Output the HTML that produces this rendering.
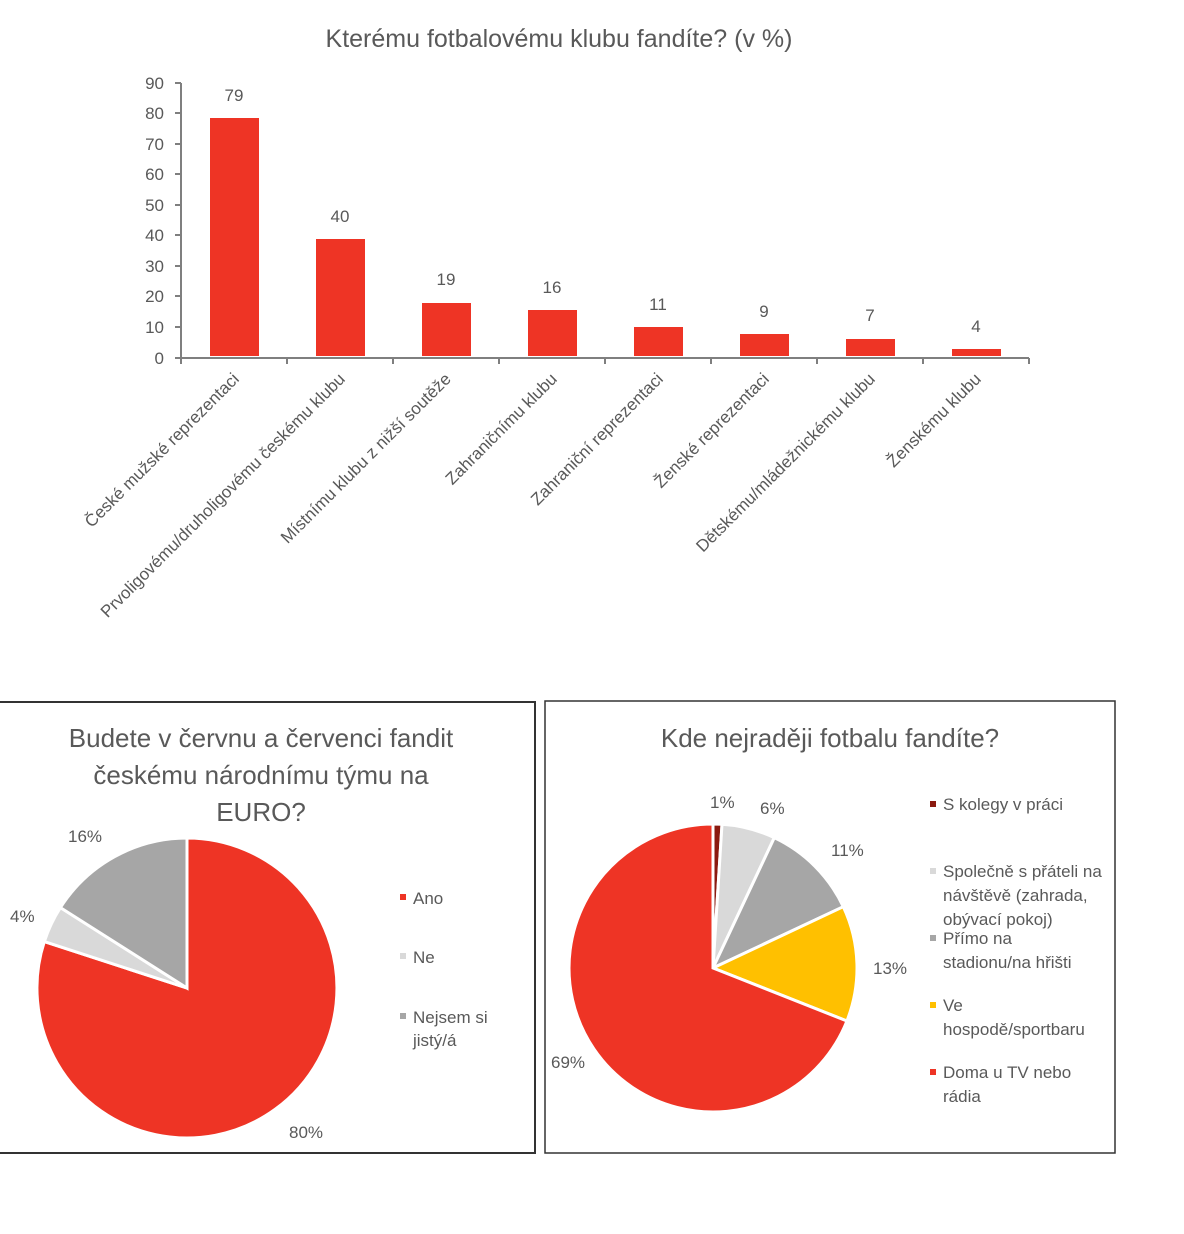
<!DOCTYPE html>
<html><head><meta charset="utf-8"><style>
body{margin:0;background:#fff;width:1184px;height:1229px;overflow:hidden}
svg text{font-family:"Liberation Sans",sans-serif;fill:#595959}
</style></head><body>
<svg width="1184" height="1229" xmlns="http://www.w3.org/2000/svg">
<text x="559" y="47" font-size="25" text-anchor="middle">Kterému fotbalovému klubu fandíte? (v %)</text>
<g stroke="#7f7f7f" stroke-width="2">
<line x1="181" y1="83" x2="181" y2="358"/>
<line x1="180" y1="358" x2="1029" y2="358"/>
<line x1="175" y1="83" x2="181" y2="83"/><line x1="175" y1="113" x2="181" y2="113"/><line x1="175" y1="144" x2="181" y2="144"/><line x1="175" y1="174" x2="181" y2="174"/><line x1="175" y1="205" x2="181" y2="205"/><line x1="175" y1="235" x2="181" y2="235"/><line x1="175" y1="266" x2="181" y2="266"/><line x1="175" y1="296" x2="181" y2="296"/><line x1="175" y1="327" x2="181" y2="327"/><line x1="175" y1="358" x2="181" y2="358"/>
<line x1="181" y1="358" x2="181" y2="364"/><line x1="287" y1="358" x2="287" y2="364"/><line x1="393" y1="358" x2="393" y2="364"/><line x1="499" y1="358" x2="499" y2="364"/><line x1="605" y1="358" x2="605" y2="364"/><line x1="711" y1="358" x2="711" y2="364"/><line x1="817" y1="358" x2="817" y2="364"/><line x1="923" y1="358" x2="923" y2="364"/><line x1="1029" y1="358" x2="1029" y2="364"/>
</g>
<g font-size="17" text-anchor="end">
<text x="164" y="89">90</text><text x="164" y="119">80</text><text x="164" y="150">70</text><text x="164" y="180">60</text><text x="164" y="211">50</text><text x="164" y="241">40</text><text x="164" y="272">30</text><text x="164" y="302">20</text><text x="164" y="333">10</text><text x="164" y="364">0</text>
</g>
<g fill="#ee3425">
<rect x="210" y="118" width="49" height="238"/>
<rect x="316" y="239" width="49" height="117"/>
<rect x="422" y="303" width="49" height="53"/>
<rect x="528" y="310" width="49" height="46"/>
<rect x="634" y="327" width="49" height="29"/>
<rect x="740" y="334" width="49" height="22"/>
<rect x="846" y="339" width="49" height="17"/>
<rect x="952" y="349" width="49" height="7"/>
</g>
<g font-size="17" text-anchor="middle">
<text x="234" y="101">79</text><text x="340" y="222">40</text><text x="446" y="285">19</text><text x="552" y="293">16</text><text x="658" y="310">11</text><text x="764" y="317">9</text><text x="870" y="321">7</text><text x="976" y="332">4</text>
</g>
<g font-size="17" text-anchor="end">
<text transform="translate(240,380) rotate(-45)">České mužské reprezentaci</text>
<text transform="translate(346,380) rotate(-45)">Prvoligovému/druholigovému českému klubu</text>
<text transform="translate(452,380) rotate(-45)">Místnímu klubu z nižší soutěže</text>
<text transform="translate(558,380) rotate(-45)">Zahraničnímu klubu</text>
<text transform="translate(664,380) rotate(-45)">Zahraniční reprezentaci</text>
<text transform="translate(770,380) rotate(-45)">Ženské reprezentaci</text>
<text transform="translate(876,380) rotate(-45)">Dětskému/mládežnickému klubu</text>
<text transform="translate(982,380) rotate(-45)">Ženskému klubu</text>
</g>

<rect x="-2" y="702" width="537" height="451" fill="none" stroke="#333" stroke-width="2"/>
<g font-size="26" text-anchor="middle">
<text x="261" y="747">Budete v červnu a červenci fandit</text>
<text x="261" y="784">českému národnímu týmu na</text>
<text x="261" y="821">EURO?</text>
</g>
<g stroke="#fff" stroke-width="3">
<path d="M187,988 L187,838 A150,150 0 1 1 44.3,941.6 Z" fill="#ee3425"/>
<path d="M187,988 L44.3,941.6 A150,150 0 0 1 60.4,907.6 Z" fill="#d9d9d9"/>
<path d="M187,988 L60.4,907.6 A150,150 0 0 1 187,838 Z" fill="#a6a6a6"/>
</g>
<g font-size="17">
<text x="68" y="842">16%</text><text x="10" y="922">4%</text><text x="289" y="1138">80%</text>
<rect x="400" y="894" width="6" height="6" fill="#ee3425" stroke="none"/><text x="413" y="904">Ano</text>
<rect x="400" y="953" width="6" height="6" fill="#d9d9d9"/><text x="413" y="963">Ne</text>
<rect x="400" y="1013" width="6" height="6" fill="#a6a6a6"/><text x="413" y="1023">Nejsem si</text><text x="413" y="1046">jistý/á</text>
</g>

<rect x="545" y="701" width="570" height="452" fill="none" stroke="#333" stroke-width="1.5"/>
<text x="830" y="747" font-size="26" text-anchor="middle">Kde nejraději fotbalu fandíte?</text>
<g stroke="#fff" stroke-width="3">
<path d="M713,968 L713,824 A144,144 0 0 1 722,824.3 Z" fill="#8b1a10"/>
<path d="M713,968 L722,824.3 A144,144 0 0 1 774.3,837.7 Z" fill="#d9d9d9"/>
<path d="M713,968 L774.3,837.7 A144,144 0 0 1 843.3,906.7 Z" fill="#a6a6a6"/>
<path d="M713,968 L843.3,906.7 A144,144 0 0 1 846.9,1021 Z" fill="#ffc000"/>
<path d="M713,968 L846.9,1021 A144,144 0 1 1 713,824 Z" fill="#ee3425"/>
</g>
<g font-size="17">
<text x="710" y="808">1%</text><text x="760" y="814">6%</text><text x="831" y="856">11%</text><text x="873" y="974">13%</text><text x="551" y="1068">69%</text>
<rect x="930" y="801" width="6" height="6" fill="#8b1a10"/><text x="943" y="810">S kolegy v práci</text>
<rect x="930" y="868" width="6" height="6" fill="#d9d9d9"/><text x="943" y="877">Společně s přáteli na</text><text x="943" y="901">návštěvě (zahrada,</text><text x="943" y="925">obývací pokoj)</text>
<rect x="930" y="935" width="6" height="6" fill="#a6a6a6"/><text x="943" y="944">Přímo na</text><text x="943" y="968">stadionu/na hřišti</text>
<rect x="930" y="1002" width="6" height="6" fill="#ffc000"/><text x="943" y="1011">Ve</text><text x="943" y="1035">hospodě/sportbaru</text>
<rect x="930" y="1069" width="6" height="6" fill="#ee3425"/><text x="943" y="1078">Doma u TV nebo</text><text x="943" y="1102">rádia</text>
</g>
</svg>
</body></html>
